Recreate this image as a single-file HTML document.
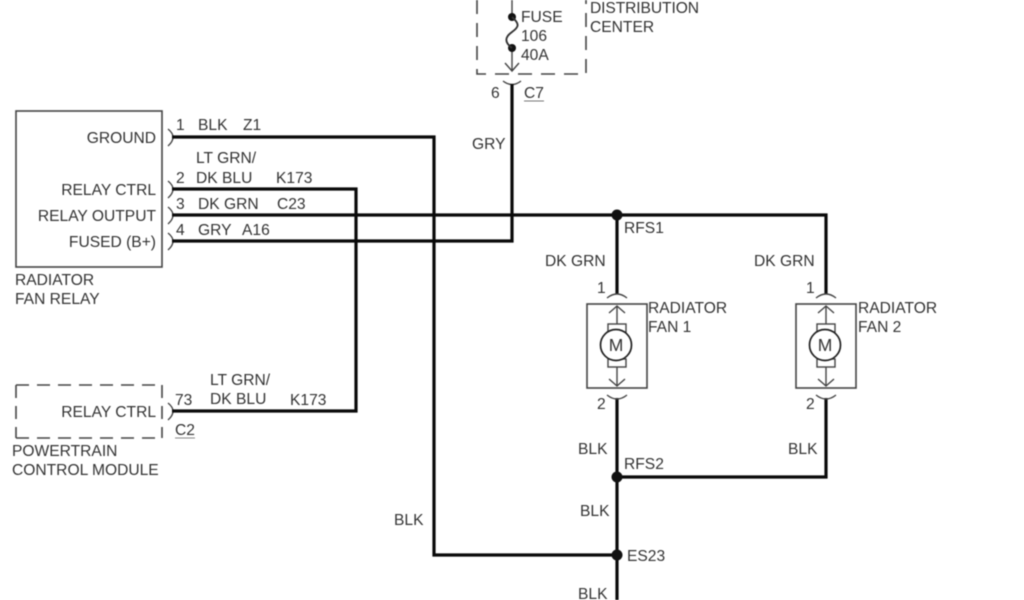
<!DOCTYPE html>
<html>
<head>
<meta charset="utf-8">
<style>
html,body{margin:0;padding:0;background:#fff;width:1024px;height:600px;overflow:hidden}
svg{display:block;filter:blur(0.4px)}
text{font-family:"Liberation Sans",Arial,sans-serif;font-size:15.6px;fill:#333}
.w{stroke:#0a0a0a;stroke-width:3.2;fill:none;stroke-linejoin:miter}
.t{stroke:#444;stroke-width:1.4;fill:none}
.f{stroke:#444;stroke-width:1.4;fill:#fff}
.b{stroke:#444;stroke-width:1.6;fill:none}
.d{stroke:#444;stroke-width:1.6;fill:none;stroke-dasharray:14 9}
</style>
</head>
<body>
<svg width="1024" height="600" viewBox="0 0 1024 600" xmlns="http://www.w3.org/2000/svg">
<!-- Distribution center -->
<path class="d" d="M477 0V74H586V0"/>
<path class="t" d="M512 0V14M512 48V71M505 63L512 71L519 63"/>
<circle cx="512" cy="17" r="4" fill="#111"/>
<circle cx="512" cy="48" r="4" fill="#111"/>
<path d="M512 17C520 24 519 27 512 32C505 37 504 42 512 48" stroke="#333" stroke-width="1.9" fill="none"/>
<text x="521" y="22">FUSE</text>
<text x="521" y="41">106</text>
<text x="521" y="60">40A</text>
<text x="590" y="13" textLength="109">DISTRIBUTION</text>
<text x="590" y="32">CENTER</text>
<path class="t" d="M503 81Q512 88 521 81"/>
<text x="491" y="98">6</text>
<text x="524" y="98">C7</text>
<path d="M524 101H544" stroke="#777" stroke-width="1"/>
<text x="472" y="149">GRY</text>

<!-- Relay box -->
<rect class="b" x="16" y="111" width="146" height="156"/>
<g text-anchor="end">
<text x="156" y="143">GROUND</text>
<text x="156" y="195">RELAY CTRL</text>
<text x="156" y="221">RELAY OUTPUT</text>
<text x="156" y="247">FUSED (B+)</text>
<text x="156" y="417">RELAY CTRL</text>
</g>
<text x="15" y="285">RADIATOR</text>
<text x="15" y="304">FAN RELAY</text>
<path class="t" d="M168 129Q178 137 168 146M168 181Q178 189 168 198M168 207Q178 215 168 224M168 233Q178 241 168 250M168 403Q178 411 168 420"/>

<!-- Wires -->
<path class="w" d="M172 137H434V555H617"/>
<path class="w" d="M172 189H356V411H172"/>
<path class="w" d="M172 215H826V294"/>
<path class="w" d="M172 241H512V84"/>
<path class="w" d="M617 215V294"/>
<path class="w" d="M617 398V600"/>
<path class="w" d="M617 477H826V398"/>
<circle cx="617" cy="215" r="5.5" fill="#111"/>
<circle cx="617" cy="477" r="5.5" fill="#111"/>
<circle cx="617" cy="555" r="5.5" fill="#111"/>

<!-- Wire labels -->
<text x="176" y="130">1</text><text x="198" y="130">BLK</text><text x="243" y="130">Z1</text>
<text x="196" y="163">LT GRN/</text>
<text x="176" y="183">2</text><text x="196" y="183">DK BLU</text><text x="276" y="183">K173</text>
<text x="176" y="209">3</text><text x="198" y="209">DK GRN</text><text x="277" y="209">C23</text>
<text x="176" y="235">4</text><text x="198" y="235">GRY</text><text x="242" y="235">A16</text>
<text x="210" y="385">LT GRN/</text>
<text x="175" y="405">73</text><text x="210" y="404">DK BLU</text><text x="290" y="405">K173</text>
<text x="175" y="435">C2</text>
<path d="M175 438H195" stroke="#888" stroke-width="1"/>

<!-- PCM -->
<path class="d" d="M16 385H162M16 438H162M16 385V438M162 385V438" style="stroke-dasharray:13 8"/>
<text x="12" y="456">POWERTRAIN</text>
<text x="12" y="475">CONTROL MODULE</text>

<!-- Fan 1 -->
<text x="597" y="293">1</text>
<text x="597" y="409">2</text>
<path class="t" d="M607 298Q617 290 627 298M607 395Q617 403 627 395"/>
<rect class="b" x="587" y="304" width="60" height="84"/>
<path class="t" d="M617 306V331M617 358V386M609 313L617 306L625 313M609 379L617 386L625 379"/>
<rect class="f" x="608" y="324" width="18" height="8"/>
<rect class="f" x="608" y="359" width="18" height="8"/>
<circle cx="616" cy="345" r="15.5" fill="#fff" stroke="#222" stroke-width="1.7"/>
<text x="616" y="351" text-anchor="middle" style="font-size:17.5px">M</text>
<text x="648" y="313">RADIATOR</text>
<text x="648" y="332">FAN 1</text>

<!-- Fan 2 -->
<text x="806" y="293">1</text>
<text x="806" y="409">2</text>
<path class="t" d="M816 298Q826 290 836 298M816 395Q826 403 836 395"/>
<rect class="b" x="796" y="304" width="60" height="84"/>
<path class="t" d="M826 306V331M826 358V386M818 313L826 306L834 313M818 379L826 386L834 379"/>
<rect class="f" x="817" y="324" width="18" height="8"/>
<rect class="f" x="817" y="359" width="18" height="8"/>
<circle cx="825" cy="345" r="15.5" fill="#fff" stroke="#222" stroke-width="1.7"/>
<text x="825" y="351" text-anchor="middle" style="font-size:17.5px">M</text>
<text x="858" y="313">RADIATOR</text>
<text x="858" y="332">FAN 2</text>

<!-- Right labels -->
<text x="624" y="233">RFS1</text>
<text x="545" y="266">DK GRN</text>
<text x="754" y="266">DK GRN</text>
<text x="578" y="454">BLK</text>
<text x="788" y="454">BLK</text>
<text x="624" y="469">RFS2</text>
<text x="580" y="516">BLK</text>
<text x="394" y="525">BLK</text>
<text x="627" y="561">ES23</text>
<text x="578" y="599">BLK</text>
</svg>
</body>
</html>
